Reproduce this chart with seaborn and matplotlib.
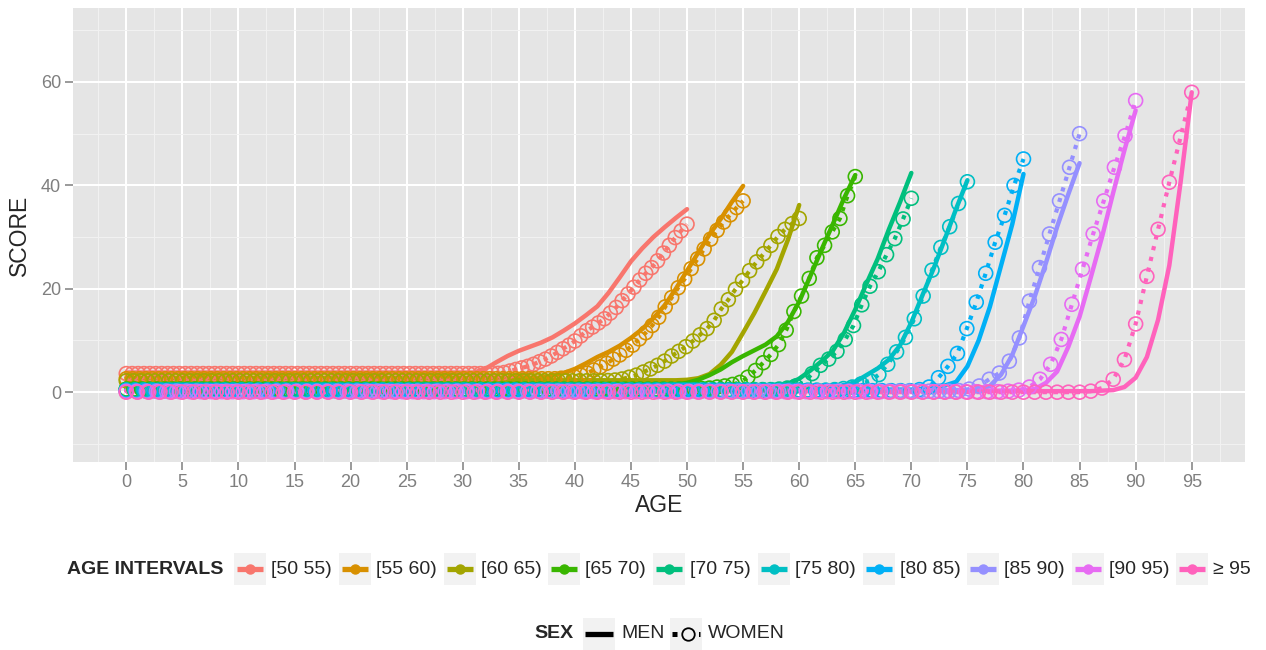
import matplotlib
matplotlib.use('Agg')
import numpy as np
import pandas as pd
import seaborn as sns
import matplotlib.pyplot as plt
from matplotlib.lines import Line2D
from matplotlib.patches import Rectangle

# ---- data ----
GROUPS = ['[50 55)', '[55 60)', '[60 65)', '[65 70)', '[70 75)',
          '[75 80)', '[80 85)', '[85 90)', '[90 95)', '\u2265 95']
END_AGES = [50, 55, 60, 65, 70, 75, 80, 85, 90, 95]
COLORS = ['#F8766D', '#D89000', '#A3A500', '#39B600', '#00BF7D',
          '#00BFC4', '#00B0F6', '#9590FF', '#E76BF3', '#FF62BC']

# women are sampled on 96 evenly spaced ages from 0 to the group's end age
N_WOMEN_POINTS = 96

# flat level at young ages
MEN_BASE = [3.8, 2.8, 2.3, 1.1, 0.9, 0.7, 0.5, 0.4, 0.3, 0.2]
WOMEN_BASE = [3.6, 2.6, 2.2, 0.6, 0.5, 0.4, 0.3, 0.2, 0.1, 0.0]

# men: rising part at whole years, last value is at the group's end age
MEN_TAILS = [
    [4.5, 5.8, 7.0, 8.0, 8.8, 9.6, 10.6, 11.9, 13.3, 14.9, 16.6, 19.2, 22.2, 25.3, 27.8, 30.0, 31.9, 33.7, 35.4],
    [3.2, 3.7, 4.5, 5.6, 6.8, 7.8, 9.0, 10.5, 12.2, 14.3, 16.8, 20.0, 23.5, 27.0, 30.5, 33.5, 36.8, 39.9],
    [2.4, 2.7, 3.5, 5.3, 7.8, 11.5, 15.3, 19.5, 23.8, 29.5, 36.2],
    [1.2, 1.3, 1.5, 1.8, 2.4, 3.3, 4.4, 5.8, 7.0, 8.1, 9.2, 10.8, 13.6, 17.5, 22.5, 27.6, 32.5, 37.5, 42.0],
    [1.0, 1.2, 1.6, 2.6, 4.2, 6.0, 8.0, 11.5, 16.0, 21.0, 25.8, 31.5, 36.8, 42.4],
    [0.8, 0.9, 1.2, 2.0, 3.3, 4.6, 6.3, 9.1, 13.5, 18.8, 24.0, 29.7, 35.5, 41.0],
    [0.6, 0.9, 1.3, 2.0, 5.0, 10.0, 16.5, 24.5, 32.5, 42.2],
    [0.5, 1.2, 3.4, 7.2, 12.8, 18.5, 25.0, 32.0, 38.3, 44.3],
    [0.4, 0.6, 1.8, 4.0, 8.8, 14.6, 22.2, 30.0, 38.6, 46.8, 54.5],
    [0.3, 0.4, 1.0, 2.8, 6.8, 14.0, 24.5, 40.5, 58.0],
]
# women: rising part on the 96-point grid, last value is at the group's end age
WOMEN_TAILS = [
    [3.65, 3.8, 4.1, 4.4, 4.7, 5.0, 5.4, 5.9, 6.4, 7.0, 7.7, 8.4, 9.1, 9.9, 10.9, 11.9, 12.6,
     13.4, 14.2, 15.3, 16.4, 17.7, 19.0, 20.3, 21.7, 23.0, 24.1, 25.4, 26.9, 28.4, 29.9, 31.2, 32.5],
    [2.7, 2.85, 3.0, 3.3, 3.7, 4.3, 4.9, 5.6, 6.4, 7.2, 8.1, 9.1, 10.3, 11.5, 12.9, 14.5, 16.5,
     18.3, 20.2, 21.9, 23.9, 25.8, 27.7, 29.6, 31.3, 32.9, 34.3, 35.7, 37.0],
    [2.25, 2.35, 2.55, 2.9, 3.3, 3.9, 4.5, 5.2, 6.0, 7.0, 7.9, 8.8, 9.9, 11.1, 12.3, 13.9, 16.1,
     17.9, 19.9, 21.6, 23.5, 25.2, 26.8, 28.4, 30.1, 31.5, 32.6, 33.6],
    [0.7, 0.8, 1.0, 1.2, 1.5, 1.9, 2.9, 4.2, 5.7, 7.3, 9.2, 12.0, 15.6, 18.6, 22.0, 26.0, 28.4,
     31.0, 33.6, 38.0, 41.7],
    [0.6, 0.8, 1.2, 1.9, 3.6, 5.2, 6.4, 7.9, 10.2, 12.9, 16.9, 20.5, 23.3, 26.6, 29.7, 33.5, 37.5],
    [0.5, 0.7, 1.0, 1.6, 2.2, 3.4, 5.4, 7.8, 10.6, 14.2, 18.6, 23.6, 28.0, 32.0, 36.5, 40.7],
    [0.5, 1.0, 2.8, 5.0, 7.5, 12.3, 17.4, 23.0, 29.0, 34.2, 40.0, 45.1],
    [0.3, 0.6, 1.2, 2.5, 3.7, 6.0, 10.5, 17.6, 24.1, 30.6, 37.0, 43.5, 50.0],
    [0.2, 0.4, 1.0, 2.5, 5.4, 10.2, 17.0, 23.8, 30.6, 37.0, 43.5, 49.6, 56.4],
    [0.2, 0.8, 2.5, 6.3, 13.2, 22.4, 31.5, 40.6, 49.3, 58.0],
]

men_rows, women_rows = [], []
for g, end, mb, wb, mt, wt in zip(GROUPS, END_AGES, MEN_BASE, WOMEN_BASE, MEN_TAILS, WOMEN_TAILS):
    men_vals = [mb] * (end + 1 - len(mt)) + mt
    for age, v in zip(range(end + 1), men_vals):
        men_rows.append((g, age, v))
    women_ages = np.linspace(0, end, N_WOMEN_POINTS)
    women_vals = [wb] * (N_WOMEN_POINTS - len(wt)) + wt
    for age, v in zip(women_ages, women_vals):
        women_rows.append((g, age, v))
men = pd.DataFrame(men_rows, columns=['AGE INTERVALS', 'AGE', 'SCORE'])
women = pd.DataFrame(women_rows, columns=['AGE INTERVALS', 'AGE', 'SCORE'])

# ---- style ----
sns.set_style('darkgrid')
plt.rcParams['font.family'] = ['Liberation Sans', 'DejaVu Sans']

W, H = 1266, 650
fig = plt.figure(figsize=(W / 100, H / 100), dpi=100)
ax = fig.add_axes([73 / W, 1 - 462 / H, (1245 - 73) / W, (462 - 8) / H])
ax.set_facecolor('#E5E5E5')

palette = dict(zip(GROUPS, COLORS))

sns.lineplot(data=men, x='AGE', y='SCORE', hue='AGE INTERVALS', palette=palette,
             linewidth=3.2, legend=False, ax=ax, estimator=None, zorder=3)
sns.lineplot(data=women, x='AGE', y='SCORE', hue='AGE INTERVALS', palette=palette,
             linewidth=3.0, linestyle=':', legend=False, ax=ax, estimator=None, zorder=3)
sns.scatterplot(data=women, x='AGE', y='SCORE', hue='AGE INTERVALS', palette=palette,
                s=100, legend=False, ax=ax, zorder=4)
pts = ax.collections[-1]
pts.set_edgecolors(pts.get_facecolors())
pts.set_facecolors('none')
pts.set_linewidths(1.2)

# axes, grid
ax.set_xlim(-4.75, 99.75)
ax.set_ylim(-13.5, 74.3)
ax.set_xticks(np.arange(0, 96, 5))
ax.set_xticks(np.arange(-2.5, 100, 5), minor=True)
ax.set_yticks([0, 20, 40, 60])
ax.set_yticks([-10, 10, 30, 50, 70], minor=True)
ax.grid(which='major', color='white', linewidth=1.45)
ax.grid(which='minor', color='#F2F2F2', linewidth=0.7)
ax.set_axisbelow(True)
for s in ax.spines.values():
    s.set_visible(False)
ax.tick_params(which='major', length=5.5, width=1.1, color='#7F7F7F',
               labelcolor='#7F7F7F', labelsize=13, pad=3, bottom=True, left=True)
ax.tick_params(which='minor', length=0)
ax.set_xlabel('AGE', fontsize=16.5, labelpad=2)
ax.set_ylabel('SCORE', fontsize=16.5, labelpad=7)


# ---- legend drawn below the panel ----
def fx(x):
    return x / W


def fy(y):
    return 1 - y / H


def key_box(x, yc):
    fig.add_artist(Rectangle((fx(x), fy(yc + 16)), 32 / W, 32 / H,
                             transform=fig.transFigure, facecolor='#F2F2F2',
                             edgecolor='none'))


renderer = fig.canvas.get_renderer()

y1 = 569
fig.text(fx(67), fy(y1), 'AGE INTERVALS', fontsize=14, fontweight='bold',
         va='center', ha='left')
x = 234
for g, c in zip(GROUPS, COLORS):
    key_box(x, y1)
    fig.add_artist(Line2D([fx(x + 3), fx(x + 29)], [fy(y1), fy(y1)], transform=fig.transFigure,
                          color=c, linewidth=3.8, solid_capstyle='butt'))
    fig.add_artist(Line2D([fx(x + 16)], [fy(y1)], transform=fig.transFigure, color=c,
                          marker='o', markersize=6.5, linestyle='none'))
    t = fig.text(fx(x + 37), fy(y1), g, fontsize=14, va='center', ha='left')
    bb = t.get_window_extent(renderer)
    x = bb.x1 + 7

y2 = 634
fig.text(fx(534), fy(y2), 'SEX', fontsize=14, fontweight='bold', va='center', ha='left')
key_box(583, y2)
fig.add_artist(Line2D([fx(585), fx(613)], [fy(y2), fy(y2)], transform=fig.transFigure,
                      color='black', linewidth=3.8, solid_capstyle='butt'))
fig.text(fx(621), fy(y2), 'MEN', fontsize=14, va='center', ha='left')
key_box(670, y2)
fig.add_artist(Line2D([fx(672), fx(700)], [fy(y2), fy(y2)], transform=fig.transFigure,
                      color='black', linewidth=3.6, linestyle=':'))
fig.add_artist(Line2D([fx(688)], [fy(y2)], transform=fig.transFigure, color='black',
                      marker='o', markersize=9, markerfacecolor='#F2F2F2',
                      markeredgewidth=1.3, linestyle='none'))
fig.text(fx(708), fy(y2), 'WOMEN', fontsize=14, va='center', ha='left')

fig.savefig('out.png', dpi=100)
